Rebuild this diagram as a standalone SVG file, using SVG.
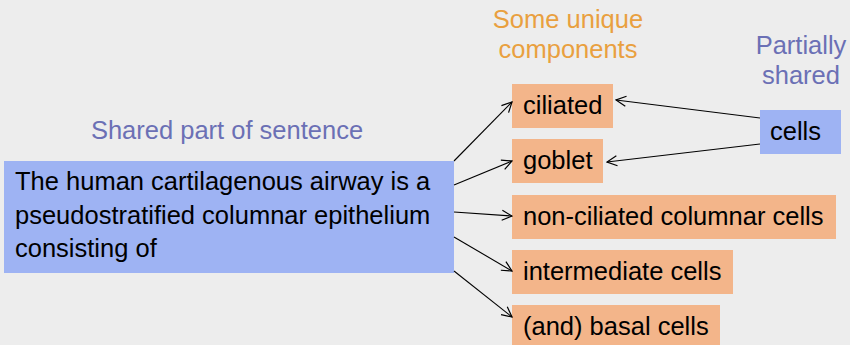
<svg xmlns="http://www.w3.org/2000/svg" width="850" height="345" viewBox="0 0 850 345">
  <style>
    text { font-family: "Liberation Sans", Arial, sans-serif; font-size: 25.5px; }
    .body { fill: #000000; }
    .blue { fill: #9EB3F3; }
    .orange { fill: #F3B58A; }
    .lbl-blue { fill: #6B70B5; }
    .lbl-orange { fill: #E9A03F; }
    .conn line { stroke: #000000; stroke-width: 1.1; fill: none; marker-end: url(#open); }
  </style>
  <defs>
    <marker id="open" viewBox="0 0 12 12" refX="11" refY="6" markerWidth="12" markerHeight="12" markerUnits="userSpaceOnUse" orient="auto">
      <path d="M1,1 L11,6 L1,11" fill="none" stroke="#000000" stroke-width="1.2"/>
    </marker>
  </defs>
  <rect width="850" height="345" fill="#EDEDED"/>

  <!-- headings -->
  <text class="lbl-blue" x="227" y="139" text-anchor="middle">Shared part of sentence</text>
  <text class="lbl-orange" x="568" y="28" text-anchor="middle">Some unique</text>
  <text class="lbl-orange" x="568" y="58" text-anchor="middle">components</text>
  <text class="lbl-blue" x="801" y="54" text-anchor="middle">Partially</text>
  <text class="lbl-blue" x="801" y="84" text-anchor="middle">shared</text>

  <g id="shared">
    <rect class="blue" x="4" y="161" width="450" height="112"/>
    <text class="body" x="15" y="190">The human cartilagenous airway is a</text>
    <text class="body" x="15" y="223.5">pseudostratified columnar epithelium</text>
    <text class="body" x="15" y="257">consisting of</text>
  </g>

  <g id="ciliated">
    <rect class="orange" x="512" y="84" width="101" height="44"/>
    <text class="body" x="523" y="114">ciliated</text>
  </g>
  <g id="goblet">
    <rect class="orange" x="512" y="139" width="91" height="44"/>
    <text class="body" x="523" y="169">goblet</text>
  </g>
  <g id="non-ciliated">
    <rect class="orange" x="512" y="195" width="324" height="44"/>
    <text class="body" x="523" y="225">non-ciliated columnar cells</text>
  </g>
  <g id="intermediate">
    <rect class="orange" x="512" y="250" width="221" height="44"/>
    <text class="body" x="523" y="280">intermediate cells</text>
  </g>
  <g id="basal">
    <rect class="orange" x="512" y="305" width="208" height="44"/>
    <text class="body" x="523" y="335">(and) basal cells</text>
  </g>
  <g id="cells">
    <rect class="blue" x="760" y="110" width="81" height="44"/>
    <text class="body" x="770" y="140">cells</text>
  </g>

  <g class="conn">
    <line x1="454" y1="161" x2="512" y2="102"/>
    <line x1="454" y1="185" x2="512" y2="161"/>
    <line x1="454" y1="212" x2="512" y2="216"/>
    <line x1="454" y1="237" x2="512" y2="271"/>
    <line x1="454" y1="271" x2="512" y2="317"/>
    <line x1="760" y1="118" x2="616" y2="100"/>
    <line x1="760" y1="144" x2="607" y2="162"/>
  </g>
</svg>
